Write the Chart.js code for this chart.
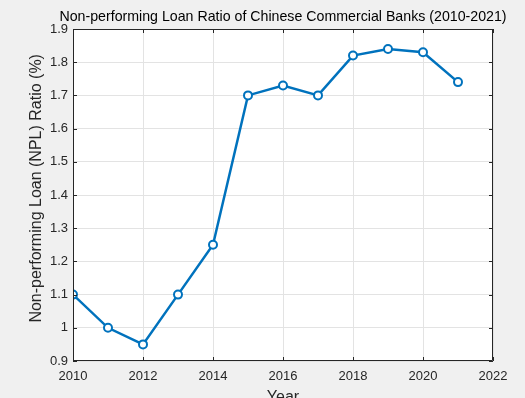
<!DOCTYPE html>
<html>
<head>
<meta charset="utf-8">
<script src="https://cdn.jsdelivr.net/npm/chart.js@4/dist/chart.umd.min.js"></script>
<style>
    html, body { margin: 0; padding: 0; background: #f0f0f0; }
    #wrap { width: 525px; height: 398px; position: relative; }
</style>
</head>
<body>
<div id="wrap"><canvas id="nplChart" width="525" height="398"></canvas></div>
<script>
// NPL-Quote chinesischer Geschäftsbanken, Jahreswerte
const years = [2010, 2011, 2012, 2013, 2014, 2015, 2016, 2017, 2018, 2019, 2020, 2021];
const nplRatio = [1.10, 1.00, 0.95, 1.10, 1.25, 1.70, 1.73, 1.70, 1.82, 1.84, 1.83, 1.74];
const xTicks = [2010, 2012, 2014, 2016, 2018, 2020, 2022];
const yTicks = [0.9, 1.0, 1.1, 1.2, 1.3, 1.4, 1.5, 1.6, 1.7, 1.8, 1.9];

const chartTitle = "Non-performing Loan Ratio of Chinese Commercial Banks (2010-2021)";
const axisColor = "#262626";
const lineColor = "#0072BD";
const fontFamily = "'Liberation Sans', Arial, sans-serif";

// weißer Plotbereich, Rahmen mit Ticks nach innen, Titel über der Achse zentriert
const boxPlugin = {
    id: "box",
    beforeDraw(chart) {
        const a = chart.chartArea;
        const ctx = chart.ctx;
        ctx.save();
        ctx.fillStyle = "#ffffff";
        ctx.fillRect(a.left, a.top, a.right - a.left, a.bottom - a.top);
        ctx.restore();
    },
    afterDraw(chart) {
        const a = chart.chartArea;
        const ctx = chart.ctx;
        const xs = chart.scales.x;
        const ys = chart.scales.y;
        const len = 4;
        ctx.save();
        ctx.strokeStyle = axisColor;
        ctx.lineWidth = 1;
        ctx.beginPath();
        ctx.rect(a.left + 0.5, a.top + 0.5, a.right - a.left - 1, a.bottom - a.top - 1);
        xTicks.forEach((v) => {
            const px = Math.round(xs.getPixelForValue(v)) + 0.5;
            ctx.moveTo(px, a.bottom);
            ctx.lineTo(px, a.bottom - len);
            ctx.moveTo(px, a.top);
            ctx.lineTo(px, a.top + len);
        });
        yTicks.forEach((v) => {
            const py = Math.round(ys.getPixelForValue(v)) + 0.5;
            ctx.moveTo(a.left, py);
            ctx.lineTo(a.left + len, py);
            ctx.moveTo(a.right, py);
            ctx.lineTo(a.right - len, py);
        });
        ctx.stroke();

        ctx.fillStyle = "#000000";
        ctx.font = "14.2px " + fontFamily;
        ctx.textAlign = "center";
        ctx.textBaseline = "middle";
        ctx.fillText(chartTitle, (a.left + a.right) / 2, 17);
        ctx.restore();
    }
};

const ctx = document.getElementById("nplChart");

new Chart(ctx, {
    type: "line",
    data: {
        datasets: [{
            data: years.map((y, i) => ({x: y, y: nplRatio[i]})),
            borderColor: lineColor,
            borderWidth: 2.5,
            pointRadius: 4,
            pointBorderWidth: 2,
            pointBorderColor: lineColor,
            pointBackgroundColor: "#ffffff",
            tension: 0,
            fill: false
        }]
    },
    options: {
        responsive: false,
        animation: false,
        layout: {padding: {left: 0, right: 32, top: 29, bottom: 0}},
        plugins: {
            legend: {display: false},
            tooltip: {enabled: false},
            title: {display: false}
        },
        scales: {
            x: {
                type: "linear",
                min: 2010,
                max: 2022,
                afterFit: (scale) => { scale.height = 37; },
                afterBuildTicks: (scale) => { scale.ticks = xTicks.map((v) => ({value: v})); },
                border: {display: false},
                grid: {color: "#e3e3e3", drawTicks: false, lineWidth: 1},
                ticks: {
                    color: axisColor,
                    padding: 8,
                    maxRotation: 0,
                    font: {family: fontFamily, size: 13},
                    callback: (v) => String(v)
                },
                title: {
                    display: true,
                    text: "Year",
                    color: axisColor,
                    font: {family: fontFamily, size: 16, lineHeight: 0.1},
                    padding: 0
                }
            },
            y: {
                min: 0.9,
                max: 1.9,
                afterFit: (scale) => { scale.width = 73; },
                afterBuildTicks: (scale) => { scale.ticks = yTicks.map((v) => ({value: v})); },
                border: {display: false},
                grid: {color: "#e3e3e3", drawTicks: false, lineWidth: 1},
                ticks: {
                    color: axisColor,
                    padding: 5,
                    font: {family: fontFamily, size: 13},
                    callback: (v) => String(Math.round(v * 10) / 10)
                },
                title: {
                    display: true,
                    // führende Leerzeichen schieben die Beschriftung etwas nach oben
                    text: "   Non-performing Loan (NPL) Ratio (%)",
                    color: axisColor,
                    font: {family: fontFamily, size: 16, lineHeight: 1.2},
                    padding: {top: 27, bottom: 0}
                }
            }
        }
    },
    plugins: [boxPlugin]
});
</script>
</body>
</html>
